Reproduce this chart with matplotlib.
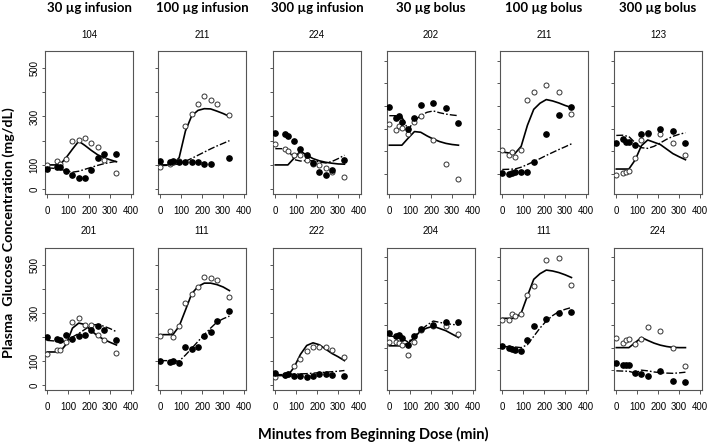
import numpy as np
import matplotlib
matplotlib.use('Agg')
import matplotlib.pyplot as plt
from matplotlib import font_manager

# column headers and subject ids
headers = ['30 µg infusion', '100 µg infusion', '300 µg infusion',
           '30 µg bolus', '100 µg bolus', '300 µg bolus']
subjects = ['104', '211', '224', '202', '211', '123',
            '201', '111', '222', '204', '111', '224']

# sampling times (min)
t_inf = [0, 45, 60, 90, 120, 150, 180, 210, 240, 270, 330]
t_bol = [0, 30, 45, 60, 90, 120, 150, 210, 270, 330]
t_model = [0, 30, 60, 90, 120, 150, 180, 210, 240, 270, 300, 330]

nan = np.nan
# observed glucose, open circles
open_obs = [
    [100, 117, 103, 125, 197, 204, 213, 190, 172, 120, 68],
    [92, 105, 110, 115, 262, 310, 352, 385, 368, 350, 305],
    [188, 167, 156, 140, 140, 119, 105, 98, 87, 70, 52],
    [322, 293, 312, 304, 275, 330, 354, 252, 145, 76],
    [204, 185, 196, 173, 207, 424, 461, 491, 461, 364],
    [96, 106, 110, 113, 170, 252, 275, 275, 237, 182],
    [128, 146, 146, 181, 263, 280, 252, 248, 210, 186, 135],
    [205, 227, 199, 246, 343, 379, 407, 451, 444, 437, 365],
    [36, 43, 47, 80, 108, 142, 157, 160, 157, 146, 119],
    [226, 226, 220, 213, 167, 227, 277, 294, 297, 260],
    [322, 322, 351, 341, 349, 433, 474, 589, 599, 478],
    [242, 220, 236, 238, 216, 238, 290, 275, 197, 120],
]
# observed glucose, filled circles
filled_obs = [
    [83, 93, 93, 76, 59, 44, 48, 79, 130, 145, 145],
    [116, 112, 115, 110, 112, 112, 110, 104, 102, nan, 128],
    [232, 226, 221, 200, 167, 140, 106, 72, 58, 77, 122],
    [397, 349, 354, 327, 297, 345, 404, 413, 391, 324],
    [103, 100, 106, 110, 110, 110, 155, 275, 360, 394],
    [237, 255, 240, 240, 230, 276, 282, 297, 290, 237],
    [199, 192, 186, 210, 192, 203, 210, 228, 247, 230, 189],
    [102, 98, 102, 94, 158, 151, 160, 206, 223, 268, 310],
    [50, 43, 47, 40, 39, 33, 39, 46, 47, 43, 39],
    [263, 250, 256, 243, 213, 252, 282, 300, 312, 315],
    [205, 197, 196, 190, 183, 235, 294, 327, 353, 356],
    [131, 123, 123, 123, 89, 82, 72, 96, 52, 49],
]
# model fits: solid (open circles), dash-dot (filled circles)
solid_fit = [
    [100, 100, 100, 130, 165, 198, 180, 160, 142, 130, 121, 113],
    [100, 100, 100, 130, 240, 303, 325, 332, 331, 322, 312, 300],
    [100, 100, 100, 128, 157, 140, 126, 117, 111, 107, 104, 103],
    [227, 227, 227, 258, 287, 284, 268, 254, 243, 235, 230, 227],
    [197, 193, 190, 222, 315, 385, 412, 428, 422, 413, 402, 393],
    [122, 122, 122, 162, 225, 250, 240, 230, 210, 190, 176, 163],
    [138, 138, 138, 170, 237, 258, 252, 226, 205, 190, 178, 167],
    [210, 210, 210, 245, 312, 380, 410, 424, 424, 418, 408, 393],
    [40, 40, 40, 75, 128, 165, 176, 168, 150, 132, 118, 102],
    [208, 208, 208, 220, 245, 275, 287, 295, 285, 275, 260, 245],
    [330, 330, 330, 353, 430, 503, 528, 544, 540, 533, 523, 511],
    [200, 200, 200, 222, 245, 232, 220, 211, 205, 201, 200, 200],
]
dash_fit = [
    [88, 86, 82, 76, 70, 74, 82, 90, 98, 105, 110, 115],
    [97, 98, 100, 105, 115, 127, 140, 153, 166, 178, 189, 200],
    [167, 167, 165, 122, 116, 118, 117, 112, 108, 114, 126, 140],
    [357, 357, 352, 295, 335, 358, 372, 378, 370, 364, 360, 357],
    [120, 121, 122, 130, 142, 155, 168, 182, 195, 208, 220, 233],
    [270, 271, 265, 238, 216, 213, 222, 237, 253, 266, 275, 282],
    [186, 184, 182, 180, 200, 215, 232, 250, 252, 245, 235, 222],
    [102, 102, 101, 100, 125, 153, 182, 210, 237, 262, 276, 287],
    [44, 44, 45, 46, 47, 48, 50, 52, 54, 56, 58, 61],
    [252, 248, 240, 225, 250, 277, 300, 318, 312, 307, 303, 300],
    [205, 204, 203, 200, 213, 250, 287, 318, 342, 360, 370, 378],
    [97, 96, 95, 87, 100, 97, 92, 89, 87, 86, 88, 91],
]

W, H = 709, 443
try:
    font_manager.findfont('Liberation Sans Narrow', fallback_to_default=False)
    narrow, tick_fs = 'Liberation Sans Narrow', 7.5
except ValueError:
    narrow, tick_fs = 'Liberation Sans', 6.9
bold_font = ['Lato', 'DejaVu Sans']
frame = '#555555'

fig = plt.figure(figsize=(W / 100, H / 100), dpi=100)

col_left = [45, 158, 273, 387, 500, 614]
box_w = 88
row_top = [51, 248]
row_bot = [194, 390]

for i in range(12):
    row, col = i // 6, i % 6
    infusion = col < 3
    l, top, bot = col_left[col], row_top[row], row_bot[row]
    ax = fig.add_axes([l / W, 1 - bot / H, box_w / W, (bot - top) / H])
    t_obs = t_inf if infusion else t_bol

    ax.plot(t_model, solid_fit[i], color='black', lw=1.2, zorder=2)
    ax.plot(t_model, dash_fit[i], color='black', lw=1.0,
            dashes=(5, 1.5, 1.2, 1.5), zorder=2)
    ax.plot(t_obs, open_obs[i], 'o', ms=3.6, mfc='white', mec='#333333',
            mew=0.7, zorder=3)
    ax.plot(t_obs, filled_obs[i], 'o', ms=3.8, color='black', zorder=4)

    ax.set_xlim(-11, 409)
    ax.set_xticks([0, 100, 200, 300, 400])
    ax.set_xticklabels(['0', '100', '200', '300', '400'], family=narrow,
                       fontsize=tick_fs)
    if infusion:
        ax.set_ylim(-20, 570)
        ax.set_yticks([0, 100, 200, 300, 400, 500])
    else:
        ax.set_ylim(12, 642)
        ax.set_yticks([100, 200, 300, 400, 500, 600])
    if col == 0:
        ax.set_yticklabels(['0', '100', '', '300', '', '500'], family=narrow,
                           fontsize=tick_fs, rotation=90, va='center')
    else:
        ax.set_yticklabels([])
    ax.tick_params(axis='x', length=3, width=0.7, color=frame, pad=6)
    ax.tick_params(axis='y', length=2.5, width=0.7, color=frame, pad=1.5)
    for sp in ax.spines.values():
        sp.set_color(frame)
        sp.set_linewidth(0.8)

    fig.text((l + box_w / 2) / W, 1 - (top - 13.5) / H, subjects[i],
             ha='center', va='baseline', family=narrow, fontsize=7)

for col in range(6):
    fig.text((col_left[col] + box_w / 2) / W, 1 - 12.5 / H, headers[col],
             ha='center', va='baseline', family=bold_font,
             fontweight='bold', fontsize=9.5)

fig.text(9 / W, 1 - 233 / H, 'Plasma  Glucose Concentration (mg/dL)',
         rotation=90, ha='center', va='center', family=bold_font,
         fontweight='bold', fontsize=10.3)
fig.text(373 / W, 1 - 439 / H, 'Minutes from Beginning Dose (min)',
         ha='center', va='baseline', family=bold_font, fontweight='bold',
         fontsize=10.5)

fig.savefig('out.png', dpi=100)
